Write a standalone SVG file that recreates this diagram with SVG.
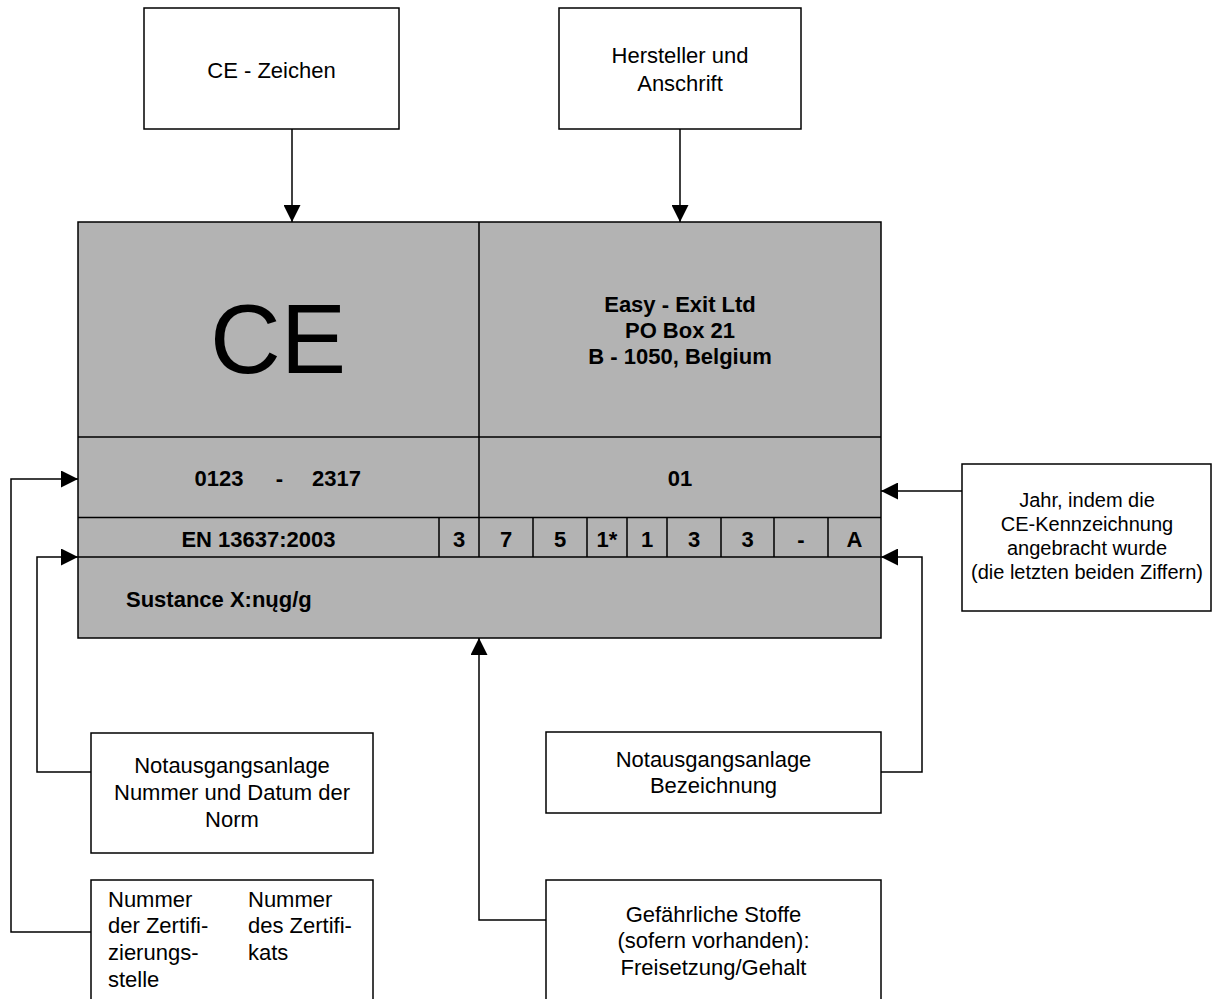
<svg xmlns="http://www.w3.org/2000/svg" width="1212" height="999" viewBox="0 0 1212 999">
<style>
.box{fill:#fff;stroke:#000;stroke-width:1.5}
.plate{fill:#b3b3b3;stroke:#000;stroke-width:1.5}
.div{fill:none;stroke:#000;stroke-width:1.5}
.con{fill:none;stroke:#000;stroke-width:1.5;marker-end:url(#arr)}
.t{font-family:"Liberation Sans",Arial,sans-serif;font-size:22px;fill:#000;text-anchor:middle}
.ts{font-family:"Liberation Sans",Arial,sans-serif;font-size:20px;fill:#000;text-anchor:middle}
.tl{font-family:"Liberation Sans",Arial,sans-serif;font-size:22px;fill:#000}
.b{font-family:"Liberation Sans",Arial,sans-serif;font-size:22px;font-weight:bold;fill:#000;text-anchor:middle}
</style>
<defs>
<marker id="arr" viewBox="0 0 17 17" refX="17" refY="8.5" markerWidth="17" markerHeight="17" markerUnits="userSpaceOnUse" orient="auto">
<path d="M0,0 L17,8.5 L0,17 z" fill="#000"/>
</marker>
</defs>

<g id="plate">
<rect class="plate" x="78" y="222" width="803" height="416"/>
<path class="div" d="M78,437 H881 M78,517.5 H881 M78,557 H881 M479,222 V557 M439,517.5 V557 M533,517.5 V557 M587,517.5 V557 M627,517.5 V557 M667,517.5 V557 M721,517.5 V557 M774,517.5 V557 M828,517.5 V557"/>
<text x="278" y="373" style="font-family:'Liberation Sans',Arial,sans-serif;font-size:98px;text-anchor:middle">CE</text>
<text class="b" x="680" y="312">Easy - Exit Ltd</text>
<text class="b" x="680" y="338">PO Box 21</text>
<text class="b" x="680" y="364">B - 1050, Belgium</text>
<text class="b" y="486"><tspan x="219">0123</tspan><tspan x="279.5">-</tspan><tspan x="336.5">2317</tspan></text>
<text class="b" x="680" y="486">01</text>
<text class="b" x="258.5" y="547">EN 13637:2003</text>
<text class="b" x="459" y="547">3</text>
<text class="b" x="506" y="547">7</text>
<text class="b" x="560" y="547">5</text>
<text class="b" x="607" y="547">1*</text>
<text class="b" x="647" y="547">1</text>
<text class="b" x="694" y="547">3</text>
<text class="b" x="747.5" y="547">3</text>
<text class="b" x="801" y="547">-</text>
<text class="b" x="854.5" y="547">A</text>
<text class="b" x="126" y="607" style="text-anchor:start">Sustance X:nųg/g</text>
</g>

<g id="ce-zeichen">
<rect class="box" x="144" y="8" width="255" height="121"/>
<text class="t" x="271.5" y="78">CE - Zeichen</text>
</g>

<g id="hersteller">
<rect class="box" x="559" y="8" width="242" height="121"/>
<text class="t" x="680" y="63">Hersteller und</text>
<text class="t" x="680" y="91">Anschrift</text>
</g>

<g id="jahr">
<rect class="box" x="962" y="464" width="249" height="147"/>
<text class="ts" x="1087" y="507">Jahr, indem die</text>
<text class="ts" x="1087" y="531">CE-Kennzeichnung</text>
<text class="ts" x="1087" y="555">angebracht wurde</text>
<text class="ts" x="1087" y="579">(die letzten beiden Ziffern)</text>
</g>

<g id="norm">
<rect class="box" x="91" y="733" width="282" height="120"/>
<text class="t" x="232" y="773">Notausgangsanlage</text>
<text class="t" x="232" y="800">Nummer und Datum der</text>
<text class="t" x="232" y="827">Norm</text>
</g>

<g id="nummern">
<rect class="box" x="91" y="880" width="282" height="130"/>
<text class="tl" x="108" y="907">Nummer</text>
<text class="tl" x="108" y="933">der Zertifi-</text>
<text class="tl" x="108" y="960">zierungs-</text>
<text class="tl" x="108" y="987">stelle</text>
<text class="tl" x="248" y="907">Nummer</text>
<text class="tl" x="248" y="933">des Zertifi-</text>
<text class="tl" x="248" y="960">kats</text>
</g>

<g id="bezeichnung">
<rect class="box" x="546" y="732" width="335" height="81"/>
<text class="t" x="713.5" y="767">Notausgangsanlage</text>
<text class="t" x="713.5" y="793">Bezeichnung</text>
</g>

<g id="stoffe">
<rect class="box" x="546" y="880" width="335" height="130"/>
<text class="t" x="713.5" y="922">Gefährliche Stoffe</text>
<text class="t" x="713.5" y="948">(sofern vorhanden):</text>
<text class="t" x="713.5" y="975">Freisetzung/Gehalt</text>
</g>

<g id="connectors">
<path class="con" d="M292,129 V222"/>
<path class="con" d="M680,129 V222"/>
<path class="con" d="M91,932 H11 V479 H78"/>
<path class="con" d="M91,772 H37 V557 H78"/>
<path class="con" d="M962,491 H881"/>
<path class="con" d="M881,772 H922 V557 H881"/>
<path class="con" d="M546,920 H479 V638"/>
</g>
</svg>
